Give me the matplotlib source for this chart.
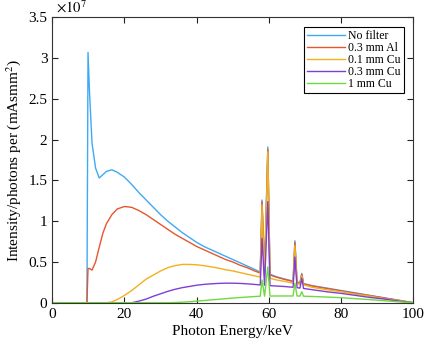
import matplotlib
matplotlib.use("Agg")
import matplotlib.pyplot as plt
from matplotlib.ticker import FuncFormatter
import numpy as np

# photon energy grid (keV) shared by all spectra
energy = [0, 9.6, 9.9, 10.3, 11, 12, 13, 14, 15, 16.5, 18, 20, 22, 24, 26, 28, 30,
          32, 34, 36, 38, 40, 42, 44, 46, 48, 50, 52, 54, 56, 57.6, 58.1, 58.8,
          59.7, 60.3, 62, 64, 66.7, 67.2, 67.8, 68.6, 69.1, 69.6, 72, 76, 80, 84,
          88, 92, 96, 100]

# intensities in units of 1e7 photons per mAs mm^2
no_filter = [0, 0, 3.07, 2.6, 1.96, 1.65, 1.53, 1.57, 1.61, 1.63, 1.60, 1.54, 1.45,
             1.35, 1.26, 1.17, 1.08, 1.00, 0.93, 0.86, 0.80, 0.74, 0.69, 0.65, 0.61,
             0.57, 0.53, 0.49, 0.45, 0.41, 0.375, 1.26, 0.37, 1.91, 0.35, 0.32, 0.295,
             0.265, 0.76, 0.255, 0.245, 0.36, 0.235, 0.21, 0.18, 0.15, 0.12, 0.09,
             0.06, 0.03, 0]
al_03 = [0, 0, 0.42, 0.42, 0.40, 0.50, 0.68, 0.85, 0.97, 1.08, 1.15, 1.18, 1.17,
         1.13, 1.08, 1.02, 0.96, 0.90, 0.84, 0.79, 0.74, 0.69, 0.65, 0.61, 0.57,
         0.53, 0.50, 0.46, 0.43, 0.39, 0.365, 1.24, 0.36, 1.88, 0.34, 0.315, 0.29,
         0.26, 0.74, 0.25, 0.24, 0.35, 0.23, 0.205, 0.175, 0.145, 0.115, 0.087,
         0.058, 0.029, 0]
cu_01 = [0, 0, 0, 0, 0, 0, 0, 0, 0, 0.01, 0.04, 0.09, 0.15, 0.22, 0.29, 0.34, 0.39,
         0.43, 0.455, 0.47, 0.47, 0.465, 0.455, 0.44, 0.425, 0.405, 0.39, 0.37,
         0.35, 0.33, 0.315, 1.20, 0.31, 1.85, 0.30, 0.28, 0.265, 0.24, 0.70, 0.235,
         0.225, 0.33, 0.22, 0.19, 0.16, 0.135, 0.105, 0.08, 0.05, 0.025, 0]
cu_03 = [0, 0, 0, 0, 0, 0, 0, 0, 0, 0, 0, 0, 0, 0.02, 0.045, 0.08, 0.11, 0.14,
         0.165, 0.185, 0.20, 0.215, 0.225, 0.232, 0.237, 0.24, 0.24, 0.237, 0.232,
         0.225, 0.218, 0.79, 0.215, 1.24, 0.21, 0.205, 0.20, 0.19, 0.56, 0.185,
         0.18, 0.30, 0.175, 0.16, 0.135, 0.115, 0.09, 0.065, 0.045, 0.02, 0]
cu_1 = [0, 0, 0, 0, 0, 0, 0, 0, 0, 0, 0, 0, 0, 0, 0, 0, 0, 0, 0.003, 0.007, 0.012,
        0.02, 0.027, 0.035, 0.042, 0.05, 0.057, 0.064, 0.07, 0.076, 0.08, 0.28,
        0.08, 0.44, 0.082, 0.083, 0.083, 0.083, 0.24, 0.083, 0.082, 0.135, 0.08,
        0.077, 0.07, 0.062, 0.05, 0.038, 0.025, 0.012, 0]

labels = ["No filter", "0.3 mm Al", "0.1 mm Cu", "0.3 mm Cu", "1 mm Cu"]
colors = ["#3fa9f5", "#e4572e", "#f2b01e", "#7e3fd6", "#6fd93f"]
SCALE = 1e7

plt.rcParams["font.family"] = ["Liberation Serif", "DejaVu Serif"]
plt.rcParams["mathtext.fontset"] = "stix"

fig = plt.figure(figsize=(4.25, 3.46), dpi=100)
ax = fig.add_axes([0.123, 0.125, 0.8495, 0.825])

for vals, lab, col in zip([no_filter, al_03, cu_01, cu_03, cu_1], labels, colors):
    ax.plot(energy, np.array(vals) * SCALE, color=col, lw=1.0, label=lab)

ax.set_xlim(0, 100)
ax.set_ylim(0, 3.5 * SCALE)
ax.set_xticks(np.arange(0, 101, 20))
ax.set_yticks(np.arange(0, 3.51, 0.5) * SCALE)
ax.yaxis.set_major_formatter(FuncFormatter(lambda v, _: f"{v / SCALE:g}"))
ax.tick_params(direction="in", top=True, right=True, labelsize=11, length=4,
               width=0.8, colors="#222222", labelcolor="black")
for sp in ax.spines.values():
    sp.set_color("#333333")
    sp.set_linewidth(0.8)

ax.text(0.01, 1.005, r"$\times10^{7}$", transform=ax.transAxes, fontsize=10.5,
        ha="left", va="bottom")
ax.set_xlabel("Photon Energy/keV", fontsize=11, labelpad=3)
ax.set_ylabel(r"Intensity/photons per (mAsmm$^2$)", fontsize=11, labelpad=4)

leg = ax.legend(loc="upper right", bbox_to_anchor=(0.973, 0.966), fontsize=8.5,
                fancybox=False, edgecolor="black", framealpha=1,
                borderpad=0.25, labelspacing=0.0, handlelength=3.2,
                handletextpad=0.3, borderaxespad=0)
leg.get_frame().set_linewidth(0.8)

fig.savefig("out.png", dpi=100)
